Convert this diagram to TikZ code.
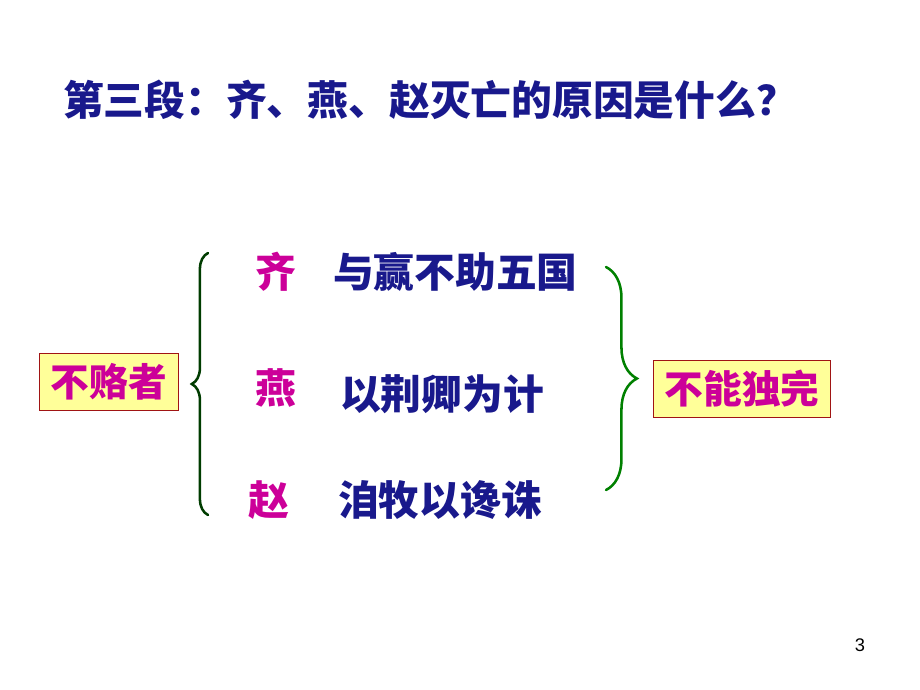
\documentclass[tikz,border=0pt]{standalone}
\usepackage{fontspec}
\newfontfamily\cjk{Noto Sans CJK SC}
\setmainfont{Liberation Sans}
\usetikzlibrary{positioning, decorations.pathreplacing}

\definecolor{titleblue}{RGB}{25,25,140}
\definecolor{leadmag}{RGB}{204,0,153}
\definecolor{boxfill}{RGB}{255,255,153}
\definecolor{boxline}{RGB}{160,20,20}
\definecolor{darkbrace}{RGB}{0,60,0}
\definecolor{lightbrace}{RGB}{0,128,0}

\begin{document}
\begin{tikzpicture}[
    x=0.025cm, y=-0.025cm,
    every node/.style={inner sep=0pt, outer sep=0pt},
    heading/.style={anchor=west, text=titleblue, font=\cjk\bfseries\fontsize{29}{30}\selectfont},
    state/.style={anchor=west, text=leadmag, font=\cjk\bfseries\fontsize{29}{30}\selectfont},
    reason/.style={anchor=west, text=titleblue, font=\cjk\bfseries\fontsize{29}{30}\selectfont},
    tagbox/.style={draw=boxline, line width=0.8pt, fill=boxfill, text=leadmag, inner xsep=8pt, inner ysep=7pt, font=\cjk\bfseries\fontsize{27.5}{30}\selectfont},
    bracket/.style={decorate, line width=1.8pt, line cap=round}
]
\useasboundingbox (0,0) rectangle (920,690);

% Title
\node[heading] (title) at (63,100) {第三段：齐、燕、赵灭亡的原因是什么？};

% States and reasons
\node[state] (qi) at (255,272) {齐};
\node[reason] (qireason) at (333,272) {与赢不助五国};
\node[state] (yan) at (255,388) {燕};
\node[reason] (yanreason) at (340,394) {以荆卿为计};
\node[state] (zhao) at (248,500) {赵};
\node[reason] (zhaoreason) at (338,500) {洎牧以谗诛};

% Boxes
\node[tagbox] (nobribe) at (109,382) {不赂者};
\node[tagbox] (cannot) at (742,389) {不能独完};

% Braces
\coordinate (lbtop) at (208,253);
\coordinate (lbbot) at (208,515);
\coordinate (rbtop) at (606,267);
\coordinate (rbbot) at (606,490);
\draw[bracket, darkbrace, decoration={brace, amplitude=11.5pt}] (lbbot) -- (lbtop);
\draw[bracket, lightbrace, decoration={brace, amplitude=22pt}] (rbtop) -- (rbbot);

% Page number
\node[font=\fontsize{13}{15}\selectfont] (pagenum) at (860,645) {3};
\end{tikzpicture}
\end{document}
